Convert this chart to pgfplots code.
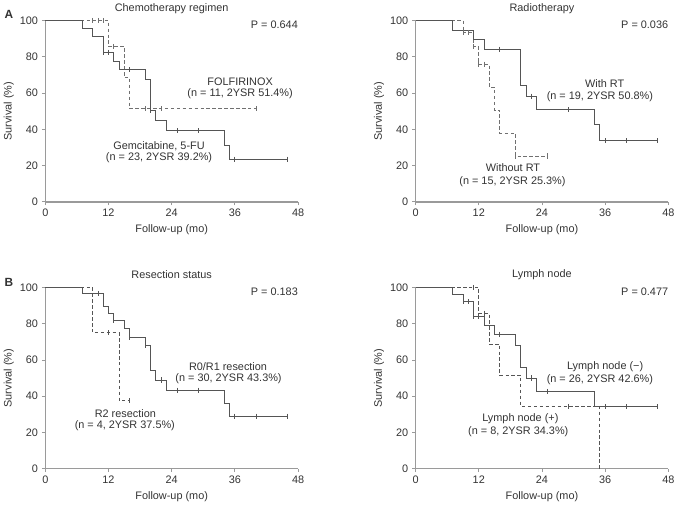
\documentclass[border=0pt]{standalone}
\usepackage{fontspec}
\setmainfont{Liberation Sans}
\usepackage{pgfplots}
\pgfplotsset{compat=1.18}

\definecolor{axgray}{HTML}{9A9A9A}
\definecolor{solidc}{HTML}{555555}
\definecolor{dashc}{HTML}{707070}
\definecolor{txt}{HTML}{333333}

\pgfplotsset{
  kmaxis/.style={
    width=255.5bp, height=183.3bp, scale only axis,
    xmin=0, xmax=48, ymin=0, ymax=100,
    axis lines=left,
    axis line style={line width=1.4bp, draw=axgray, -},
    xtick={0,12,24,36,48}, ytick={0,20,...,100},
    tick align=outside, major tick length=3.5bp,
    tick style={line width=0.8bp, draw=axgray},
    tick label style={font=\fontsize{11bp}{13bp}\selectfont, text=txt},
    /pgf/number format/assume math mode=true,
    clip=false, anchor=south west,
  },
  km/.style={const plot, line width=0.9bp, color=solidc},
  kmd/.style={const plot, line width=0.9bp, color=dashc, dash pattern=on 3.5bp off 2.5bp},
  cens/.style={only marks, mark=|, mark size=2.6bp, line width=0.8bp, color=#1},
}
\newcommand{\lbl}{\fontsize{11bp}{13bp}\selectfont\color{txt}}

\begin{document}
\lbl
\begin{tikzpicture}
\path (0,0) rectangle (678bp,507bp);

% ---------- A: chemotherapy ----------
\begin{axis}[kmaxis, at={(41.7bp,306.7bp)}]
\addplot[kmd] coordinates {(0,100)(12,85.7)(15,68.6)(16,51.4)(40,51.4)};
\addplot[cens=dashc] coordinates {(9,100)(10,100)(11,100)(13,85.7)(19,51.4)(22,51.4)(40,51.4)};
\addplot[km] coordinates {(0,100)(7,95.7)(9,91.3)(11,82.6)(13,77.7)(14,72.9)(19,67.7)(20,50.7)(21,44.7)(23,39.2)(34,31.4)(35,23.5)(46,23.5)};
\addplot[cens=solidc] coordinates {(11,82.6)(12,82.6)(16,72.9)(20,50.7)(25,39.2)(29,39.2)(36,23.5)(46,23.5)};
\node[font=\lbl] at (axis cs:37,66.5) {FOLFIRINOX};
\node[font=\lbl] at (axis cs:37,59.8) {(n = 11, 2YSR 51.4\%)};
\node[font=\lbl] at (axis cs:21.6,30.7) {Gemcitabine, 5-FU};
\node[font=\lbl] at (axis cs:21.6,24.5) {(n = 23, 2YSR 39.2\%)};
\node[font=\lbl, anchor=east, inner xsep=0pt] at (axis cs:48,97.7) {P = 0.644};
\node[font=\lbl] at ([yshift=12bp]rel axis cs:0.5,1) {Chemotherapy regimen};
\node[font=\lbl] at ([yshift=-28bp]rel axis cs:0.5,0) {Follow-up (mo)};
\node[font=\lbl, xshift=-37bp, rotate=90] at (rel axis cs:0,0.5) {Survival (\%)};
\end{axis}

% ---------- A: radiotherapy ----------
\begin{axis}[kmaxis, at={(416bp,306.7bp)}]
\addplot[kmd] coordinates {(0,100)(9,93.3)(11,85.6)(12,76.0)(14,63.3)(15,50.7)(16,38.0)(19,25.3)(25,25.3)};
\addplot[cens=dashc] coordinates {(9,93.3)(10,93.3)(11,85.6)(12,76.0)(13,76.0)(19,25.3)(25,25.3)};
\addplot[km] coordinates {(0,100)(7,94.7)(11,89.5)(13,84.2)(20,64.4)(21,58.3)(23,50.8)(34,42.5)(35,33.8)(46,33.8)};
\addplot[cens=solidc] coordinates {(16,84.2)(22,58.3)(29,50.8)(36,33.8)(40,33.8)(46,33.8)};
\node[font=\lbl] at (axis cs:35.9,65.1) {With RT};
\node[font=\lbl] at (axis cs:35.0,58.0) {(n = 19, 2YSR 50.8\%)};
\node[font=\lbl] at (axis cs:18.5,18.7) {Without RT};
\node[font=\lbl] at (axis cs:18.4,10.9) {(n = 15, 2YSR 25.3\%)};
\node[font=\lbl, anchor=east, inner xsep=0pt] at (axis cs:48,97.7) {P = 0.036};
\node[font=\lbl] at ([yshift=12bp]rel axis cs:0.5,1) {Radiotherapy};
\node[font=\lbl] at ([yshift=-28bp]rel axis cs:0.5,0) {Follow-up (mo)};
\node[font=\lbl, xshift=-37bp, rotate=90] at (rel axis cs:0,0.5) {Survival (\%)};
\end{axis}

% ---------- B: resection status ----------
\begin{axis}[kmaxis, at={(41.7bp,37bp)}]
\addplot[kmd, color=solidc] coordinates {(0,100)(9,75)(14,37.5)(16,37.5)};
\addplot[cens=solidc] coordinates {(12,75)(16,37.5)};
\addplot[km] coordinates {(0,100)(7,96.7)(11,89.5)(12,85.6)(13,81.6)(15,77.1)(16,72.5)(19,68.2)(20,54.0)(21,48.9)(23,43.3)(34,36.1)(35,28.9)(46,28.9)};
\addplot[cens=solidc] coordinates {(10,96.7)(13,81.6)(16,72.5)(19,68.2)(22,48.9)(25,43.3)(29,43.3)(36,28.9)(40,28.9)(46,28.9)};
\node[font=\lbl] at (axis cs:34.7,56.5) {R0/R1 resection};
\node[font=\lbl] at (axis cs:34.8,49.8) {(n = 30, 2YSR 43.3\%)};
\node[font=\lbl] at (axis cs:15.2,30.4) {R2 resection};
\node[font=\lbl] at (axis cs:15.1,23.8) {(n = 4, 2YSR 37.5\%)};
\node[font=\lbl, anchor=east, inner xsep=0pt] at (axis cs:48,97.7) {P = 0.183};
\node[font=\lbl] at ([yshift=13bp]rel axis cs:0.5,1) {Resection status};
\node[font=\lbl] at ([yshift=-28bp]rel axis cs:0.5,0) {Follow-up (mo)};
\node[font=\lbl, xshift=-37bp, rotate=90] at (rel axis cs:0,0.5) {Survival (\%)};
\end{axis}

% ---------- B: lymph node ----------
\begin{axis}[kmaxis, at={(416bp,37bp)}]
\addplot[kmd, color=solidc] coordinates {(0,100)(12,85.7)(14,68.6)(16,51.4)(20,34.3)(35,0)};
\addplot[cens=solidc] coordinates {(11,100)(13,85.7)(29,34.3)};
\addplot[km] coordinates {(0,100)(7,96.2)(9,92.3)(11,84.0)(13,78.9)(15,74.2)(19,68.2)(20,56.0)(21,50.0)(23,42.6)(34,34.1)(46,34.1)};
\addplot[cens=solidc] coordinates {(9,92.3)(10,92.3)(11,84.0)(12,84.0)(16,74.2)(22,50.0)(25,42.6)(36,34.1)(40,34.1)(46,34.1)};
\node[font=\lbl] at (axis cs:36.0,56.2) {Lymph node (−)};
\node[font=\lbl] at (axis cs:35.0,49.3) {(n = 26, 2YSR 42.6\%)};
\node[font=\lbl] at (axis cs:19.9,27.5) {Lymph node (+)};
\node[font=\lbl] at (axis cs:19.5,20.5) {(n = 8, 2YSR 34.3\%)};
\node[font=\lbl, anchor=east, inner xsep=0pt] at (axis cs:48,97.7) {P = 0.477};
\node[font=\lbl] at ([yshift=13bp]rel axis cs:0.5,1) {Lymph node};
\node[font=\lbl] at ([yshift=-28bp]rel axis cs:0.5,0) {Follow-up (mo)};
\node[font=\lbl, xshift=-37bp, rotate=90] at (rel axis cs:0,0.5) {Survival (\%)};
\end{axis}

\node[font=\fontsize{12bp}{14bp}\selectfont\bfseries\color{txt}] at (5bp,496bp) {A};
\node[font=\fontsize{12bp}{14bp}\selectfont\bfseries\color{txt}] at (5bp,225.3bp) {B};
\end{tikzpicture}
\end{document}
